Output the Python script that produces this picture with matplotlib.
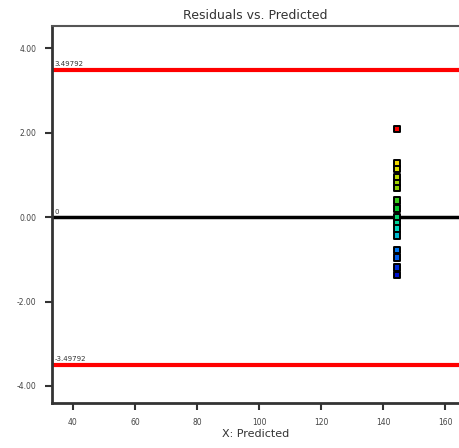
import numpy as np
import matplotlib
matplotlib.use('Agg')
import matplotlib.pyplot as plt
from matplotlib.ticker import FormatStrFormatter
from matplotlib.colors import LinearSegmentedColormap

# 数据
predicted = [144.5] * 16
residuals = [2.09, 1.28, 1.14, 0.95, 0.81, 0.69, 0.40, 0.21, 0.0, -0.14,
             -0.27, -0.43, -0.78, -0.95, -1.20, -1.37]
limit = 3.49792
x_ticks = [40, 60, 80, 100, 120, 140, 160]
y_ticks = [-4, -2, 0, 2, 4]

fig = plt.figure(figsize=(4.59, 4.48), dpi=100)
ax = fig.add_axes([0.113, 0.1, 0.887, 0.842])

# 残差着色:蓝→青→绿→黄→红
cmap = LinearSegmentedColormap.from_list(
    'de', [(0, '#0010D0'), (0.17, '#0078F0'), (0.32, '#00D8C0'),
           (0.45, '#00C830'), (0.6, '#90D000'), (0.76, '#F0E000'),
           (1, '#FF0000')])
r = np.array(residuals)
norm = (r - r.min()) / (r.max() - r.min())

ax.axhline(limit, color='#FF0000', lw=3, zorder=1)
ax.axhline(-limit, color='#FF0000', lw=3, zorder=1)
ax.axhline(0, color='black', lw=2.5, zorder=1)

ax.scatter(predicted, residuals, marker='s', s=24, c=cmap(norm),
           edgecolors='black', linewidths=1.4, zorder=3)

ax.text(34, limit + 0.06, f'{limit:g}', fontsize=5, color='#333333', va='bottom')
ax.text(34, -limit + 0.06, f'{-limit:g}', fontsize=5, color='#333333', va='bottom')
ax.text(34, 0.06, '0', fontsize=5, color='#333333', va='bottom')

ax.set_xlim(33.2, 164.5)
ax.set_ylim(-4.41, 4.53)
ax.set_xticks(x_ticks)
ax.set_yticks(y_ticks)
ax.yaxis.set_major_formatter(FormatStrFormatter('%.2f'))
ax.tick_params(axis='both', labelsize=5.5, length=5, width=1.5,
               colors='#333333', labelcolor='#444444', pad=6)

for side in ['left', 'bottom']:
    ax.spines[side].set_linewidth(2)
    ax.spines[side].set_color('#333333')
ax.spines['top'].set_linewidth(1.5)
ax.spines['top'].set_color('#555555')
ax.spines['right'].set_visible(False)

ax.set_title('Residuals vs. Predicted', fontsize=9, color='#333333', pad=5)
ax.set_xlabel('X: Predicted', fontsize=8, color='#333333', labelpad=1)

fig.savefig('out.png', dpi=100)
